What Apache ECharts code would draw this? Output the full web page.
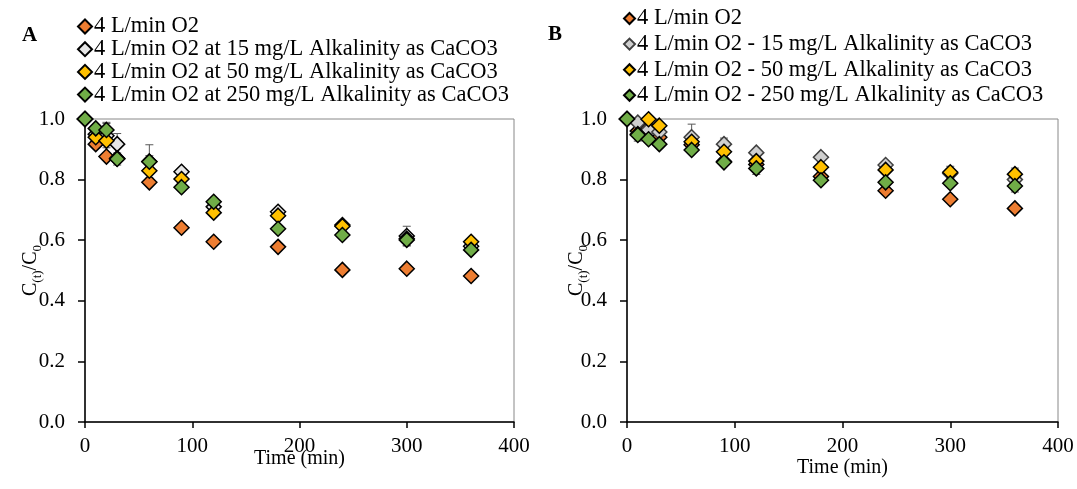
<!DOCTYPE html>
<html><head><meta charset="utf-8">
<script src="https://cdn.jsdelivr.net/npm/echarts@6/dist/echarts.min.js"></script>
<style>html,body{margin:0;padding:0;background:#fff}#c{width:1077px;height:489px}</style>
</head><body><div id="c"></div>
<script>
const times = [0, 10, 20, 30, 60, 90, 120, 180, 240, 300, 360];
const xTicks = [0, 100, 200, 300, 400];
const yTicks = [0, 0.2, 0.4, 0.6, 0.8, 1.0];

const namesA = ['4 L/min O2', '4 L/min O2 at 15 mg/L Alkalinity as CaCO3', '4 L/min O2 at 50 mg/L Alkalinity as CaCO3', '4 L/min O2 at 250 mg/L Alkalinity as CaCO3'];
const namesB = ['4 L/min O2', '4 L/min O2 - 15 mg/L Alkalinity as CaCO3', '4 L/min O2 - 50 mg/L Alkalinity as CaCO3', '4 L/min O2 - 250 mg/L Alkalinity as CaCO3'];

const A_o2 = [1.0, 0.917, 0.876, 0.870, 0.791, 0.641, 0.595, 0.578, 0.502, 0.506, 0.482];
const A_15 = [1.0, 0.950, 0.945, 0.917, 0.860, 0.826, 0.710, 0.694, 0.650, 0.614, 0.580];
const A_50 = [1.0, 0.940, 0.928, 0.870, 0.829, 0.802, 0.691, 0.681, 0.646, 0.605, 0.595];
const A_250 = [1.0, 0.969, 0.964, 0.868, 0.859, 0.775, 0.727, 0.638, 0.617, 0.601, 0.568];
const A_o2_err = [0, 0.01, 0.01, 0.01, 0.01, 0.005, 0.005, 0.01, 0.01, 0.01, 0.005];
const A_15_err = [0, 0.01, 0.04, 0.035, 0.055, 0.01, 0.01, 0.01, 0.01, 0.032, 0.01];
const A_50_err = [0, 0.01, 0.01, 0.01, 0.01, 0.01, 0.01, 0.01, 0.01, 0.01, 0.01];
const A_250_err = [0, 0.01, 0.025, 0.02, 0.02, 0.01, 0.01, 0.01, 0.01, 0.02, 0.01];

const B_o2 = [1.0, 0.960, 0.970, 0.940, 0.915, 0.860, 0.850, 0.810, 0.763, 0.735, 0.705];
const B_15 = [1.0, 0.988, 0.964, 0.957, 0.940, 0.917, 0.889, 0.874, 0.848, 0.820, 0.800];
const B_50 = [1.0, 0.950, 0.999, 0.978, 0.925, 0.892, 0.861, 0.841, 0.832, 0.824, 0.818];
const B_250 = [1.0, 0.947, 0.933, 0.917, 0.898, 0.857, 0.837, 0.798, 0.791, 0.788, 0.779];
const B_o2_err = [0, 0.01, 0.01, 0.01, 0.01, 0.01, 0.01, 0.01, 0.01, 0.01, 0.01];
const B_15_err = [0, 0.01, 0.01, 0.02, 0.043, 0.02, 0.01, 0.01, 0.01, 0.01, 0.01];
const B_50_err = [0, 0.01, 0.01, 0.01, 0.01, 0.01, 0.01, 0.01, 0.01, 0.02, 0.02];
const B_250_err = [0, 0.02, 0.01, 0.01, 0.01, 0.01, 0.02, 0.01, 0.01, 0.01, 0.02];

const FONT = '"Liberation Serif","Times New Roman",serif';
const fills = ['#ED7D31', '#E6E6E6', '#FFC000', '#70AD47'];
const fillsB = ['#ED7D31', '#CFCFCF', '#FFC000', '#70AD47'];

function pts(v, e) { return times.map((t, i) => [t, v[i], e[i]]); }

let errCount = 0;
function errSeries(data, idx) {
  errCount++;
  return {
    type: 'custom', name: '__err' + errCount, xAxisIndex: idx, yAxisIndex: idx, z: 1, silent: true,
    data: data, encode: { x: 0, y: 1 },
    renderItem: function (params, api) {
      const x = api.value(0), y = api.value(1), e = api.value(2);
      if (!e) return null;
      const t = api.coord([x, y + e]), b = api.coord([x, y - e]);
      const st = { stroke: '#595959', lineWidth: 1 };
      return { type: 'group', children: [
        { type: 'line', shape: { x1: t[0], y1: t[1], x2: b[0], y2: b[1] }, style: st },
        { type: 'line', shape: { x1: t[0] - 4, y1: t[1], x2: t[0] + 4, y2: t[1] }, style: st },
        { type: 'line', shape: { x1: b[0] - 4, y1: b[1], x2: b[0] + 4, y2: b[1] }, style: st }
      ] };
    }
  };
}
function scat(name, data, idx, fill, border) {
  return {
    type: 'scatter', name: name, xAxisIndex: idx, yAxisIndex: idx, z: 3,
    symbol: 'diamond', symbolSize: 15, data: data.map(d => [d[0], d[1]]),
    itemStyle: { color: fill, borderColor: border, borderWidth: 1.5, opacity: 1 }
  };
}

const setsA = [[A_o2, A_o2_err], [A_15, A_15_err], [A_50, A_50_err], [A_250, A_250_err]];
const setsB = [[B_o2, B_o2_err], [B_15, B_15_err], [B_50, B_50_err], [B_250, B_250_err]];
const series = [];
setsA.forEach(s => series.push(errSeries(pts(s[0], s[1]), 0)));
setsB.forEach(s => series.push(errSeries(pts(s[0], s[1]), 1)));
setsA.forEach((s, i) => series.push(scat(namesA[i], pts(s[0], s[1]), 0, fills[i], '#000')));
setsB.forEach((s, i) => series.push(scat(namesB[i] + (i === 0 ? ' ' : ''), pts(s[0], s[1]), 1, fillsB[i], i === 1 ? '#404040' : '#000')));

function xAx(idx, gap) {
  return {
    type: 'value', gridIndex: idx, min: xTicks[0], max: xTicks[xTicks.length - 1], interval: 100,
    name: 'Time (min)', nameLocation: 'middle', nameGap: gap, nameMoveOverlap: false,
    nameTextStyle: { fontFamily: FONT, fontSize: 20, color: '#000', lineHeight: 22 },
    axisLine: { show: true, lineStyle: { color: '#000', width: 1.5 } },
    axisTick: { show: true, inside: false, length: 6, lineStyle: { color: '#000', width: 1.5 } },
    axisLabel: { fontFamily: FONT, fontSize: 21, color: '#000', margin: 14 },
    splitLine: { show: false }
  };
}
function yAx(idx, gap) {
  return {
    type: 'value', gridIndex: idx, min: yTicks[0], max: yTicks[yTicks.length - 1], interval: 0.2,
    name: '{a|C}{s|(t)}{a|/C}{s|0}', nameLocation: 'middle', nameGap: gap, nameRotate: 90, nameMoveOverlap: false,
    nameTextStyle: { fontFamily: FONT, color: '#000',
      rich: { a: { fontFamily: FONT, fontSize: 20, lineHeight: 26, verticalAlign: 'middle', color: '#000' },
              s: { fontFamily: FONT, fontSize: 13, lineHeight: 13, verticalAlign: 'bottom', color: '#000' } } },
    axisLine: { show: true, lineStyle: { color: '#000', width: 1.5 } },
    axisTick: { show: true, inside: false, length: 7, lineStyle: { color: '#000', width: 1.5 } },
    axisLabel: { fontFamily: FONT, fontSize: 21, color: '#000', margin: 20, formatter: v => v.toFixed(1) },
    splitLine: { show: false }
  };
}
function legend(names, left, top, gap, size) {
  return {
    orient: 'vertical', left: left, top: top, itemGap: gap, itemWidth: size, itemHeight: size,
    icon: 'diamond', padding: 0, selectedMode: false,
    textStyle: { fontFamily: FONT, fontSize: 22.5, color: '#000', lineHeight: 22, padding: [0, 0, 0, -3] },
    data: names
  };
}

const chart = echarts.init(document.getElementById('c'), null, { renderer: 'canvas' });
chart.setOption({
  backgroundColor: '#fff',
  animation: false,
  grid: [
    { left: 85, top: 119, width: 429, height: 303, show: true, borderColor: '#888', borderWidth: 1, backgroundColor: 'transparent' },
    { left: 627, top: 119, width: 431, height: 303, show: true, borderColor: '#888', borderWidth: 1, backgroundColor: 'transparent' }
  ],
  xAxis: [xAx(0, 26), xAx(1, 35)],
  yAxis: [yAx(0, 41), yAx(1, 37)],
  legend: [
    legend(namesA, 77, 15, -0.3, 14),
    legend(namesB.map((n, i) => n + (i === 0 ? ' ' : '')), 623, 7, 2.6, 11)
  ],
  graphic: [
    { type: 'text', left: 22, top: 25, style: { text: 'A', font: 'bold 21px ' + FONT, fill: '#000' } },
    { type: 'text', left: 548, top: 24, style: { text: 'B', font: 'bold 21px ' + FONT, fill: '#000' } }
  ],
  series: series
});
</script></body></html>
